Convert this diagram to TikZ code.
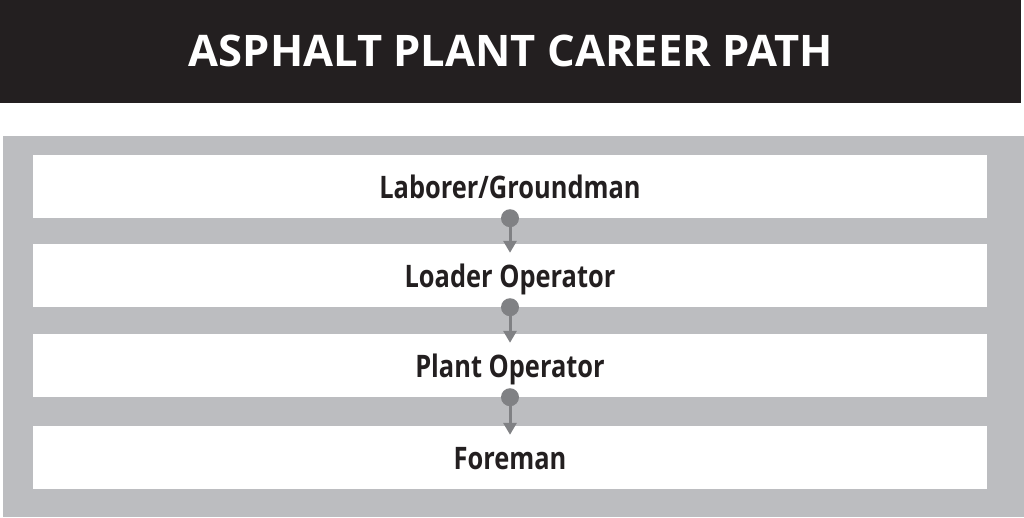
\documentclass[tikz,border=0pt]{standalone}
\usepackage{fontspec}
\setmainfont{Open Sans}
\newfontfamily\titlefont{Open Sans}[BoldFont={* Bold}]
\newfontfamily\stepfont{Open Sans}[BoldFont={* Bold},BoldFeatures={FakeStretch=0.82}]
\usetikzlibrary{arrows.meta,positioning}

\definecolor{barblack}{HTML}{231F20}
\definecolor{panelgray}{HTML}{BCBDC0}
\definecolor{linkgray}{HTML}{808184}

\tikzset{
  stepbox/.style={fill=white,minimum width=954pt,minimum height=63pt,inner sep=0pt,
    text height=23pt,text depth=0pt,
    text=barblack,font=\stepfont\bfseries\fontsize{31}{34}\selectfont},
  link/.style={linkgray,line width=3pt,-{Triangle[width=13pt,length=12pt]}}
}

\begin{document}
\begin{tikzpicture}[x=1pt,y=-1pt]
\useasboundingbox (0,0) rectangle (1024,517);
% title bar and panel
\fill[barblack] (0,0) rectangle (1021,103);
\node (title) [text=white,font=\titlefont\bfseries\fontsize{43.5}{48}\selectfont] at (511,51) {ASPHALT PLANT CAREER PATH};
\fill[panelgray] (3,136) rectangle (1024,517);
% steps
\node [stepbox] (laborer) at (510,186.5) {Laborer/Groundman};
\node [stepbox] (loader) at (510,275.5) {Loader Operator};
\node [stepbox] (plant) at (510,365.5) {Plant Operator};
\node [stepbox] (foreman) at (510,457.5) {Foreman};
% links
\foreach \a/\b in {laborer/loader,loader/plant,plant/foreman}{
  \fill[linkgray] (\a.south) circle (9pt);
  \draw[link] (\a.south) -- ([yshift=-9pt]\b.north);
}
\end{tikzpicture}
\end{document}
